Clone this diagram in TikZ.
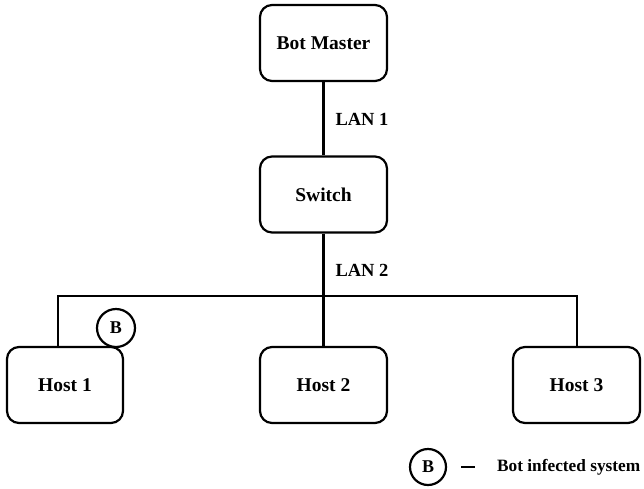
\documentclass[tikz,border=0pt]{standalone}
\usepackage{fontspec}
\setmainfont{Liberation Serif}
\begin{document}
\begin{tikzpicture}[x=1pt,y=-1pt,
  line width=2.2pt,
  box/.style={draw, rounded corners=12pt, minimum height=76pt, inner sep=0pt,
              font=\fontsize{19.5}{22}\selectfont\bfseries},
  badge/.style={draw, circle, minimum size=38pt, inner sep=0pt,
                font=\fontsize{18}{20}\selectfont\bfseries},
  lbl/.style={font=\fontsize{18.5}{20}\selectfont\bfseries}]
  \useasboundingbox (0,0) rectangle (644,488);

  % top of the network
  \node[box, minimum width=127pt] (bm) at (323.5,43) {Bot Master};
  \node[box, minimum width=127pt] (sw) at (323.5,194.5) {Switch};

  % hosts
  \node[box, minimum width=116pt] (h1) at (65,385) {Host 1};
  \node[box, minimum width=127pt] (h2) at (323.5,385) {Host 2};
  \node[box, minimum width=127pt] (h3) at (576.5,385) {Host 3};

  % infected marker on Host 1
  \node[badge] (b1) at (116,328) {B};

  % shared bus
  \coordinate (busL) at (58,296);
  \coordinate (busM) at (323.5,296);
  \coordinate (busR) at (577,296);

  \draw (bm) -- (sw);
  \draw (sw) -- (busM) -- (h2);
  \draw (busL |- h1.north) -- (busL) -- (busR) -- (busR |- h3.north);

  \node[lbl] (lan1) at (362,119) {LAN 1};
  \node[lbl] (lan2) at (362,270) {LAN 2};

  % legend
  \node[badge, minimum size=36pt] (lb) at (428,467) {B};
  \coordinate (d1) at (461,467);
  \coordinate (d2) at (475,467);
  \draw (d1) -- (d2);
  \node[anchor=west, inner sep=0pt, font=\fontsize{17.3}{19}\selectfont\bfseries]
    (ltxt) at (496,467) {Bot infected system};
\end{tikzpicture}
\end{document}
